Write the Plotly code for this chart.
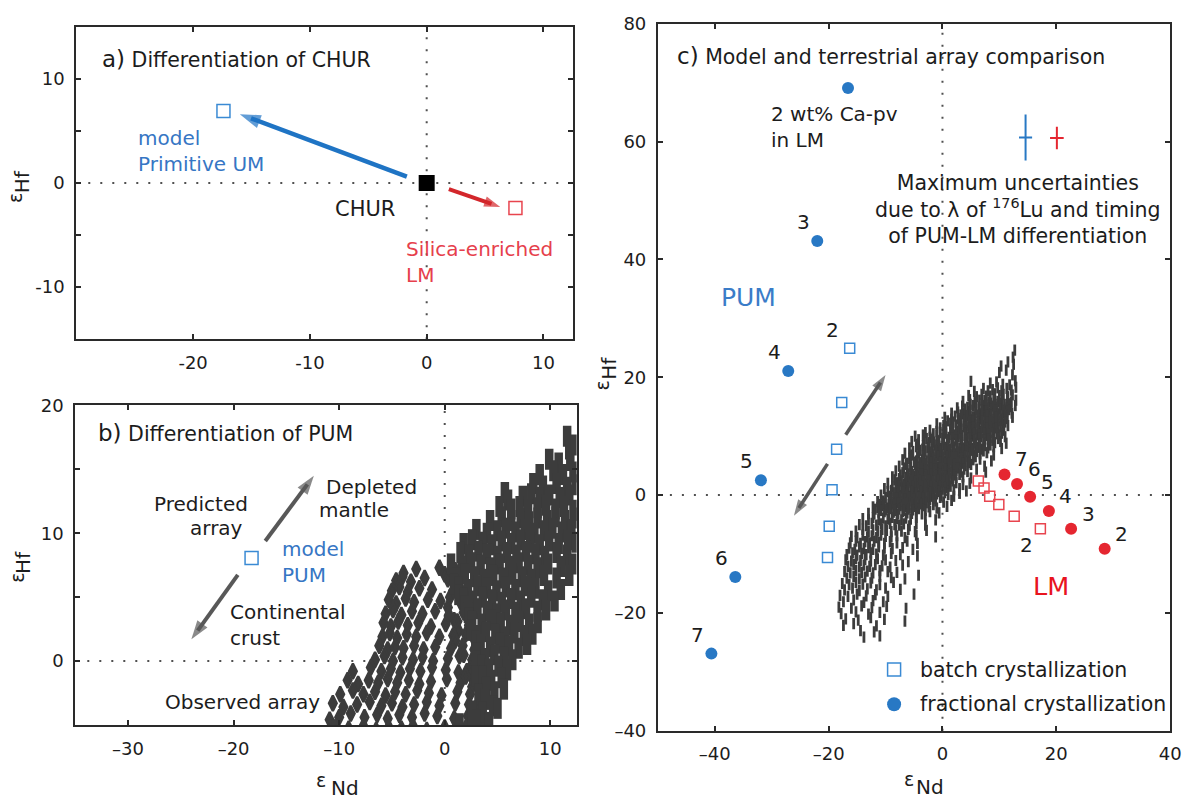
import math
import plotly.graph_objects as go

W, H = 1196, 809
FONT = "DejaVu Sans, Verdana, sans-serif"
INK = "#1c1c1c"
FRAME = "#2a2a2a"
DOTS = "#505050"
CLOUD = "#3c3c3c"
GRAY_ARROW = "#585858"
BLUE = "#2878c4"
BLUE_OPEN = "#3a8ad4"
BLUE_TEXT = "#3676c4"
RED = "#e52630"
RED_OPEN = "#e8444e"
RED_TEXT = "#e6404c"

# plot frames in pixels: left, right, top, bottom
FRAMES = {"a": (77, 578, 16, 337), "b": (76, 582, 405, 733), "c": (664, 1181, 13, 739)}
RANGES = {"a": ([-30, 12.5], [-15, 15]), "b": ([-35, 12.5], [-5, 20]), "c": ([-50, 40], [-40, 80])}
AXES = {"a": ("x", "y"), "b": ("x2", "y2"), "c": ("x3", "y3")}

# ---------------- (a) differentiation of CHUR ----------------
chur_x, chur_y = [0.0], [0.0]
prim_um_x, prim_um_y = [-17.4], [6.9]
lm_a_x, lm_a_y = [7.6], [-2.4]
arrow_a_pum = ([-1.7, -16.0], [0.6, 6.6])
arrow_a_lm = ([1.9, 6.3], [-0.6, -2.3])

# ---------------- (b) differentiation of PUM ----------------
pum_b_x, pum_b_y = [-18.3], [8.07]
arrow_b_up = ([-17.0, -12.4], [9.4, 14.5])
arrow_b_down = ([-19.6, -24.0], [6.75, 1.7])

# observed eNd-eHf array, oceanic island samples
array_b_oib = [
    (-3.9, 6.9), (-2.7, 7.2), (-0.5, 7.3), (1.0, 7.1), (0.0, 6.8),
    (-4.6, 6.3), (-4.0, 6.6), (-3.2, 6.2), (-1.9, 6.5), (0.3, 6.4), (1.4, 6.2),
    (-5.0, 5.5), (-4.3, 5.8), (-3.5, 5.4), (-2.4, 5.7), (-1.2, 5.6), (0.8, 5.5), (1.7, 5.3), (0.5, 5.0),
    (-5.3, 4.8), (-4.6, 4.5), (-3.7, 4.9), (-2.9, 4.6), (-1.6, 4.8), (-0.4, 4.7), (1.5, 4.6), (2.1, 4.4), (0.3, 4.2),
    (-5.6, 3.7), (-4.9, 4.0), (-4.1, 3.6), (-3.1, 3.9), (-2.1, 3.7), (-0.9, 3.9), (0.4, 3.6), (1.8, 3.8), (2.5, 3.5), (0.9, 3.2),
    (-5.8, 3.0), (-5.1, 2.7), (-4.4, 3.1), (-3.5, 2.8), (-2.5, 3.0), (-1.3, 2.7), (0.1, 2.9), (1.2, 3.1), (2.3, 2.8), (1.3, 2.4),
    (-5.9, 1.9), (-5.2, 2.2), (-4.5, 1.8), (-3.6, 2.1), (-2.7, 1.9), (-1.7, 2.2), (-0.5, 1.9), (0.8, 2.0), (2.0, 2.1), (2.8, 1.7), (1.0, 1.6),
    (-6.2, 1.2), (-5.4, 0.9), (-4.7, 1.1), (-3.9, 1.0), (-2.9, 1.2), (-2.0, 0.9), (-0.9, 1.1), (0.6, 1.0), (1.7, 1.2), (2.8, 0.9),
    (-6.6, 0.1), (-5.7, 0.4), (-4.9, 0.0), (-4.0, 0.3), (-3.0, 0.1), (-2.1, 0.3), (-1.1, 0.0), (0.3, 0.2), (1.4, 0.4), (2.6, 0.1), (3.3, 0.6), (3.1, -0.2), (1.8, 0.5),
    (-8.7, -0.8), (-7.0, -0.5), (-6.0, -0.8), (-5.1, -0.6), (-4.2, -0.9), (-3.3, -0.6), (-2.3, -0.8), (-1.2, -0.5), (0.1, -0.7), (1.3, -0.9), (2.4, -0.6), (3.4, -0.4), (3.8, -0.9), (2.1, -0.8),
    (-9.2, -1.5), (-8.2, -1.8), (-7.2, -1.5), (-6.3, -1.7), (-5.4, -1.4), (-4.5, -1.7), (-3.4, -1.5), (-2.4, -1.8), (-1.3, -1.6), (0.2, -1.4), (1.5, -1.7), (2.7, -1.5), (3.6, -1.8), (2.0, -1.2),
    (-9.9, -2.6), (-8.7, -2.3), (-7.7, -2.6), (-6.6, -2.4), (-5.6, -2.7), (-4.7, -2.4), (-3.7, -2.6), (-2.6, -2.3), (-1.5, -2.5), (-0.3, -2.7), (1.2, -2.4), (2.4, -2.6), (3.6, -2.3), (4.0, -2.9), (2.6, -2.0),
    (-10.6, -3.3), (-9.6, -3.6), (-8.3, -3.4), (-7.1, -3.2), (-6.0, -3.5), (-5.0, -3.3), (-4.0, -3.6), (-2.9, -3.4), (-1.7, -3.2), (-0.5, -3.5), (1.0, -3.3), (2.3, -3.4), (3.5, -3.1), (3.0, -3.6),
    (-10.9, -4.6), (-10.0, -4.4), (-8.9, -4.1), (-7.6, -4.4), (-6.4, -4.2), (-5.4, -4.5), (-4.3, -4.2), (-3.1, -4.4), (-1.9, -4.1), (-0.7, -4.3), (0.9, -4.5), (2.2, -4.3), (3.2, -4.6),
    (-10.4, -5.2), (-9.1, -5.3), (-7.7, -5.1), (-6.5, -5.4), (-5.3, -5.2), (-4.1, -5.3), (-3.0, -5.1), (-1.7, -5.4), (0.0, -5.2), (1.2, -5.3), (2.0, -5.2), (3.6, -5.0),
]

# observed eNd-eHf array, mid-ocean ridge samples
array_b_morb = [
    (11.6, 17.6),
    (11.8, 16.6), (12.3, 16.9),
    (9.9, 15.8), (10.8, 15.5), (11.9, 15.7),
    (9.0, 14.6), (10.3, 14.9), (11.2, 14.6), (12.2, 14.8),
    (5.7, 13.2), (8.4, 13.9), (9.3, 13.7), (10.6, 13.9), (11.6, 13.6), (12.4, 13.8),
    (6.0, 12.6), (7.4, 12.9), (8.2, 13.1), (9.0, 12.8), (9.9, 13.0), (10.9, 12.8), (11.8, 13.0),
    (5.2, 12.1), (6.3, 11.9), (7.1, 12.1), (7.9, 11.8), (8.8, 12.0), (9.6, 12.2), (10.5, 11.9), (11.3, 12.1), (12.2, 11.8),
    (4.3, 11.0), (5.4, 11.3), (6.3, 11.0), (7.2, 11.2), (8.0, 10.9), (8.8, 11.2), (9.7, 11.0), (10.5, 11.3), (11.4, 11.0), (12.3, 11.2),
    (3.0, 10.3), (4.0, 10.0), (5.0, 10.2), (5.8, 10.4), (6.7, 10.1), (7.6, 10.3), (8.5, 10.0), (9.4, 10.2), (10.2, 10.4), (11.1, 10.1), (12.0, 10.3),
    (1.8, 9.2), (2.6, 9.5), (3.6, 9.3), (4.5, 9.1), (5.4, 9.4), (6.3, 9.2), (7.2, 9.5), (8.1, 9.3), (9.0, 9.1), (9.9, 9.4), (10.8, 9.2), (11.7, 9.5), (12.4, 9.3),
    (1.5, 8.5), (2.3, 8.3), (3.2, 8.6), (4.0, 8.4), (5.0, 8.2), (5.9, 8.5), (6.8, 8.3), (7.7, 8.6), (8.6, 8.4), (9.5, 8.2), (10.6, 8.5), (11.6, 8.3),
    (0.6, 7.6), (1.6, 7.4), (2.5, 7.7), (3.4, 7.5), (4.3, 7.3), (5.2, 7.6), (6.1, 7.4), (7.0, 7.7), (7.9, 7.5), (8.8, 7.3), (9.8, 7.6), (11.0, 7.4), (12.1, 7.6),
    (1.0, 6.5), (1.9, 6.8), (2.8, 6.6), (3.7, 6.4), (4.6, 6.7), (5.5, 6.5), (6.4, 6.8), (7.3, 6.6), (8.2, 6.4), (9.4, 6.7), (10.6, 6.5), (11.8, 6.7),
    (0.9, 6.0), (1.3, 5.8), (2.2, 5.6), (3.1, 5.9), (4.0, 5.7), (4.9, 5.5), (5.8, 5.8), (6.7, 5.6), (7.6, 5.9), (8.6, 5.7), (9.8, 5.5), (11.0, 5.6),
    (1.3, 5.2), (1.8, 4.9), (2.7, 4.7), (3.6, 5.0), (4.5, 4.8), (5.4, 4.6), (6.3, 4.9), (7.2, 4.7), (8.2, 5.0), (9.3, 4.8), (10.4, 4.7),
    (1.9, 4.3), (2.2, 3.8), (3.1, 4.1), (4.0, 3.9), (4.9, 3.7), (5.8, 4.0), (6.7, 3.8), (7.7, 4.1), (8.8, 3.9), (9.6, 4.0),
    (2.3, 3.4), (2.6, 3.1), (3.5, 2.9), (4.4, 3.2), (5.3, 3.0), (6.2, 2.8), (7.1, 3.1), (8.0, 2.9), (8.8, 3.0),
    (2.5, 2.4), (3.0, 2.0), (3.9, 2.3), (4.8, 2.1), (5.7, 1.9), (6.6, 2.2), (7.5, 2.0), (8.3, 2.1),
    (2.9, 1.6), (3.4, 1.3), (4.3, 1.1), (5.2, 1.4), (6.1, 1.2), (7.0, 1.0), (7.8, 1.3),
    (3.0, 0.6), (3.0, 0.0), (3.8, 0.2), (4.7, 0.5), (5.6, 0.3), (6.4, 0.1),
    (3.5, -0.3), (2.9, -1.2), (4.2, -0.6), (5.1, -0.4), (5.9, -0.7),
    (3.6, -1.2), (4.4, -1.5), (5.4, -1.3),
    (3.9, -2.0), (3.2, -2.6), (4.7, -2.4), (5.6, -2.2),
    (3.8, -3.0), (2.6, -3.9), (3.6, -4.0), (4.6, -3.5), (5.0, -3.7),
    (1.4, -4.9), (2.6, -5.2), (3.0, -4.6), (4.2, -4.8),
]

# ---------------- (c) model and terrestrial array ----------------
pum_frac_x = [-16.6, -22.0, -27.1, -31.9, -36.4, -40.6]
pum_frac_y = [69.1, 43.1, 21.05, 2.5, -13.9, -26.9]
pum_frac_lbl = ["", "3", "4", "5", "6", "7"]
pum_batch_x = [-16.3, -17.7, -18.6, -19.4, -19.9, -20.2]
pum_batch_y = [24.9, 15.7, 7.8, 0.9, -5.3, -10.6]
pum_batch_lbl = ["2", "", "", "", "", ""]
lm_frac_x = [28.5, 22.6, 18.7, 15.4, 13.1, 10.9]
lm_frac_y = [-9.1, -5.7, -2.7, -0.3, 1.9, 3.5]
lm_frac_lbl = ["2", "3", "4", "5", "6", "7"]
lm_batch_x = [17.2, 12.6, 9.9, 8.3, 7.3, 6.3]
lm_batch_y = [-5.7, -3.6, -1.6, -0.2, 1.2, 2.4]
lm_batch_lbl = ["2", "", "", "", "", ""]
unc_x = [14.6, 20.1]
unc_y = [60.7, 60.6]
unc_dx = [1.15, 1.2]
unc_dy = [3.9, 1.9]
unc_colors = [BLUE, RED]
arrow_c_up = ([-17.0, -10.0], [10.25, 20.4])
arrow_c_down = ([-20.2, -26.1], [5.3, -3.5])
legend_x = [-8.5, -8.5]
legend_y = [-29.6, -35.5]
legend_text = ["batch crystallization", "fractional crystallization"]

array_c = [
    (12.7, 24.6), (12.4, 23.4),
    (12.5, 22.2), (10.3, 21.9), (11.5, 22.6),
    (10.0, 20.8), (12.3, 20.4), (11.2, 21.2),
    (5.0, 19.3), (9.5, 19.2), (10.6, 18.8), (12.8, 19.4), (11.8, 18.7), (8.4, 19.0),
    (5.6, 17.6), (7.2, 18.1), (8.0, 17.7), (8.8, 17.9), (9.7, 18.2), (10.4, 17.7), (11.3, 18.1), (12.1, 17.8), (12.9, 18.3),
    (4.6, 16.9), (6.0, 16.7), (6.9, 17.1), (7.7, 16.8), (8.4, 16.8), (9.2, 17.2), (10.0, 16.9), (10.7, 17.1), (11.5, 16.7), (12.3, 17.0),
    (3.6, 15.9), (4.8, 16.2), (5.7, 15.8), (6.5, 16.1), (7.4, 16.1), (8.1, 15.8), (9.0, 16.2), (9.7, 15.9), (10.5, 16.0), (11.4, 16.3), (12.1, 15.8), (12.9, 16.1),
    (2.6, 14.8), (3.5, 15.1), (4.4, 14.9), (5.4, 15.2), (6.4, 14.9), (7.3, 15.2), (8.0, 14.8), (8.9, 15.1), (9.6, 14.9), (10.4, 15.3), (11.3, 14.8), (12.0, 15.0), (12.8, 15.2),
    (1.6, 13.9), (2.7, 14.1), (3.6, 13.8), (4.6, 14.2), (5.8, 14.0), (6.6, 13.8), (7.3, 14.2), (8.2, 13.9), (9.0, 14.1), (9.7, 13.8), (10.6, 14.0), (11.3, 14.2), (12.2, 13.9),
    (0.4, 13.2), (1.6, 12.9), (2.8, 13.0), (3.9, 13.1), (5.0, 12.8), (5.7, 13.2), (6.6, 12.9), (7.4, 13.0), (8.1, 13.2), (9.0, 12.8), (9.8, 13.1), (10.5, 12.9), (11.4, 13.0), (12.3, 13.2),
    (-1.0, 12.1), (0.2, 11.8), (1.4, 12.2), (2.4, 11.9), (3.3, 12.0), (4.2, 11.8), (4.9, 12.2), (5.8, 11.9), (6.5, 12.1), (7.4, 11.8), (8.2, 12.0), (8.9, 12.2), (9.8, 11.9), (10.6, 12.1), (11.5, 11.8),
    (-2.2, 11.0), (-1.0, 10.8), (0.2, 11.1), (1.4, 11.1), (2.6, 10.8), (3.3, 11.2), (4.2, 10.9), (5.0, 11.0), (5.7, 11.2), (6.6, 10.8), (7.3, 11.1), (8.2, 10.9), (9.0, 11.2), (9.7, 10.9), (10.8, 11.0),
    (-4.8, 10.0), (-3.4, 10.2), (-2.2, 9.8), (-1.0, 10.1), (0.2, 10.1), (1.1, 9.8), (2.0, 10.2), (2.8, 9.9), (3.5, 10.1), (4.4, 9.8), (5.2, 10.0), (6.0, 10.2), (6.7, 9.9), (7.6, 10.1), (8.4, 9.8), (9.1, 10.0), (10.0, 10.2), (11.0, 9.9),
    (-5.4, 9.1), (-4.2, 8.8), (-3.2, 9.2), (-2.3, 8.9), (-1.5, 9.0), (-0.6, 9.2), (0.2, 8.8), (1.0, 9.1), (1.8, 8.9), (2.5, 9.2), (3.4, 8.8), (4.2, 9.0), (5.0, 9.1), (5.8, 8.8), (6.5, 9.2), (7.4, 8.9), (8.2, 9.1), (9.2, 8.9), (10.2, 9.1), (11.2, 8.8),
    (-5.8, 8.0), (-4.6, 8.2), (-3.5, 7.8), (-2.6, 8.1), (-1.8, 7.8), (-1.0, 8.2), (-0.2, 7.9), (0.6, 8.1), (1.4, 7.8), (2.1, 8.2), (3.0, 7.9), (3.8, 8.0), (4.6, 8.2), (5.3, 7.9), (6.2, 8.1), (7.0, 7.8), (8.0, 8.0), (9.0, 8.2), (10.4, 7.9),
    (-6.6, 7.1), (-5.4, 6.8), (-4.2, 7.2), (-3.2, 6.9), (-2.4, 7.2), (-1.6, 6.8), (-0.8, 7.1), (0.0, 6.9), (0.8, 7.2), (1.6, 6.8), (2.4, 7.0), (3.2, 7.2), (4.0, 6.9), (4.8, 7.1), (5.6, 6.8), (6.6, 7.0), (7.8, 7.2), (9.0, 6.8),
    (-7.0, 6.0), (-5.8, 6.2), (-4.6, 5.8), (-3.6, 6.0), (-2.8, 5.8), (-2.0, 6.2), (-1.2, 5.9), (-0.4, 6.1), (0.4, 5.8), (1.2, 6.0), (2.0, 6.2), (2.8, 5.9), (3.6, 6.1), (4.4, 5.8), (5.4, 6.0), (6.6, 6.1), (8.6, 5.8),
    (-7.6, 4.9), (-6.4, 5.2), (-5.6, 4.8), (-4.8, 5.1), (-4.0, 4.8), (-3.2, 5.2), (-2.4, 4.9), (-1.6, 5.1), (-0.8, 4.8), (0.0, 5.0), (0.8, 5.2), (1.6, 4.9), (2.4, 5.1), (3.2, 4.8), (4.0, 5.0), (5.0, 5.2), (7.4, 4.9),
    (-8.2, 4.1), (-7.0, 3.8), (-6.2, 4.2), (-5.4, 4.0), (-4.6, 4.2), (-4.0, 3.8), (-3.2, 4.1), (-2.4, 3.9), (-1.6, 4.2), (-0.8, 3.8), (0.0, 4.0), (0.8, 4.1), (1.6, 3.8), (2.4, 4.2), (3.2, 3.9), (4.4, 4.0), (6.0, 4.4), (7.6, 3.9),
    (-8.8, 3.1), (-7.6, 2.8), (-6.5, 3.0), (-5.6, 2.8), (-4.8, 3.2), (-4.0, 2.9), (-3.2, 3.1), (-2.4, 2.8), (-1.6, 3.0), (-0.8, 3.2), (0.0, 2.9), (0.8, 3.1), (1.6, 2.8), (2.4, 3.0), (3.6, 3.1), (5.0, 2.9),
    (-9.6, 2.0), (-8.0, 2.1), (-6.8, 1.9), (-6.0, 2.2), (-5.2, 1.8), (-4.4, 2.0), (-3.6, 2.2), (-2.8, 1.9), (-2.0, 2.1), (-1.2, 1.8), (-0.4, 2.0), (0.4, 2.2), (1.2, 1.9), (2.4, 2.1), (3.6, 1.8), (4.8, 2.0),
    (-10.2, 1.1), (-9.0, 0.8), (-8.2, 0.8), (-7.2, 1.2), (-6.4, 0.9), (-5.6, 1.1), (-4.8, 0.8), (-4.0, 1.0), (-3.2, 1.2), (-2.4, 0.9), (-1.6, 1.1), (-0.8, 0.8), (0.0, 1.0), (0.8, 1.2), (2.0, 0.9), (3.0, 1.1), (4.2, 0.7),
    (-10.8, 0.0), (-9.2, -0.2), (-8.2, 0.2), (-7.4, -0.1), (-6.6, 0.1), (-5.8, -0.2), (-5.0, 0.2), (-4.2, 0.0), (-3.4, -0.1), (-2.6, 0.1), (-1.8, -0.2), (-1.0, 0.2), (-0.2, -0.1), (1.0, 0.1), (2.0, -0.2), (3.0, 0.3),
    (-11.4, -1.1), (-10.4, -1.0), (-9.4, -0.8), (-8.6, -1.2), (-7.8, -0.9), (-7.0, -1.1), (-6.2, -0.8), (-5.4, -1.0), (-4.6, -1.2), (-3.8, -0.9), (-3.0, -1.1), (-2.2, -0.8), (-1.2, -1.0), (0.2, -1.2), (1.6, -0.9),
    (-12.2, -2.0), (-11.4, -2.1), (-10.6, -1.8), (-9.8, -2.2), (-9.0, -1.9), (-8.2, -2.1), (-7.4, -1.8), (-6.6, -2.0), (-5.8, -2.2), (-5.0, -1.9), (-4.2, -2.1), (-3.4, -1.8), (-2.4, -2.0), (-1.0, -2.2), (0.8, -1.9),
    (-13.0, -3.1), (-12.0, -3.2), (-11.2, -2.9), (-10.2, -2.8), (-9.4, -3.1), (-8.6, -2.9), (-7.8, -3.2), (-7.0, -2.8), (-6.2, -3.0), (-5.4, -3.1), (-4.6, -2.9), (-3.6, -3.2), (-2.2, -2.8), (-0.6, -3.0),
    (-14.0, -4.0), (-13.0, -4.2), (-12.2, -3.8), (-11.2, -4.2), (-10.4, -3.9), (-9.6, -4.1), (-8.8, -3.8), (-8.0, -4.0), (-7.2, -4.2), (-6.4, -3.9), (-5.6, -4.1), (-4.6, -3.8), (-3.0, -4.0), (-1.2, -4.2),
    (-14.6, -5.0), (-13.4, -5.2), (-12.4, -4.8), (-11.6, -5.1), (-10.8, -4.9), (-10.0, -5.2), (-9.2, -4.8), (-8.4, -5.0), (-7.6, -5.1), (-6.8, -4.9), (-5.8, -5.2), (-4.6, -4.8), (-3.0, -5.1),
    (-15.2, -6.1), (-14.0, -5.8), (-13.0, -6.2), (-12.2, -5.9), (-11.4, -6.1), (-10.6, -5.8), (-9.8, -6.0), (-9.0, -6.2), (-8.2, -5.9), (-7.2, -6.1), (-6.0, -5.8), (-4.8, -6.2), (-2.8, -6.0),
    (-16.0, -7.0), (-15.0, -7.2), (-14.0, -6.8), (-13.2, -7.1), (-12.4, -6.9), (-11.6, -7.2), (-10.8, -6.8), (-10.0, -7.0), (-9.0, -7.1), (-8.0, -6.9), (-6.6, -7.2), (-4.6, -6.8), (-1.2, -7.1),
    (-16.2, -8.1), (-15.2, -7.8), (-14.4, -8.2), (-13.6, -7.9), (-12.8, -8.1), (-12.0, -7.8), (-11.2, -8.0), (-10.2, -8.2), (-9.2, -7.9), (-8.0, -8.1), (-6.2, -7.8), (-4.4, -8.2),
    (-16.4, -9.0), (-15.4, -9.2), (-14.6, -8.8), (-13.8, -9.1), (-13.0, -8.9), (-12.2, -9.2), (-11.2, -8.8), (-10.2, -9.0), (-8.8, -9.1), (-7.0, -8.9), (-5.2, -9.2),
    (-16.8, -10.1), (-15.8, -9.8), (-15.0, -10.2), (-14.2, -9.9), (-13.4, -10.1), (-12.6, -9.8), (-11.6, -10.0), (-10.4, -10.2), (-9.0, -9.9), (-7.4, -10.1), (-4.4, -10.3),
    (-17.0, -11.0), (-16.0, -11.2), (-15.2, -10.8), (-14.4, -11.1), (-13.6, -10.9), (-12.6, -11.2), (-11.4, -10.8), (-10.0, -11.0), (-8.2, -11.1), (-6.0, -11.3),
    (-16.6, -12.1), (-15.6, -11.8), (-14.6, -12.2), (-13.8, -11.9), (-12.8, -12.1), (-11.8, -11.8), (-10.6, -12.0), (-9.2, -12.2), (-7.0, -11.9),
    (-17.2, -13.0), (-16.2, -13.2), (-15.2, -12.8), (-14.2, -13.1), (-13.2, -12.9), (-12.2, -13.2), (-11.0, -12.8), (-9.6, -13.0), (-8.0, -13.1), (-4.2, -13.6),
    (-16.8, -14.1), (-15.6, -13.8), (-14.6, -14.2), (-13.6, -13.9), (-12.4, -14.1), (-11.0, -13.8), (-9.0, -14.0), (-6.6, -14.2),
    (-17.6, -15.0), (-16.4, -15.2), (-15.2, -14.8), (-14.0, -15.1), (-12.6, -14.9), (-11.0, -15.2), (-8.6, -14.8),
    (-17.2, -16.1), (-15.8, -15.8), (-14.6, -16.2), (-13.2, -15.9), (-11.6, -16.1), (-10.0, -15.8), (-7.4, -16.0),
    (-18.0, -17.0), (-16.6, -17.2), (-15.0, -16.8), (-13.4, -17.1), (-11.8, -16.9), (-9.6, -17.2), (-5.0, -16.8),
    (-17.4, -18.1), (-15.6, -17.8), (-13.8, -18.2), (-12.2, -17.9), (-10.4, -18.1),
    (-18.2, -19.0), (-16.0, -19.2), (-14.2, -18.8), (-12.4, -19.1), (-9.8, -18.9), (-6.4, -19.2),
    (-17.8, -20.1), (-15.2, -19.8), (-13.0, -20.2), (-11.0, -19.9),
    (-17.0, -21.0), (-14.8, -21.2), (-12.6, -20.8), (-10.2, -21.1), (-6.6, -21.4),
    (-17.4, -22.1), (-15.6, -21.8), (-11.6, -22.2),
    (-14.4, -23.0), (-12.0, -23.2),
    (-13.8, -24.1), (-11.0, -23.9),
]

# densely sampled centre of the terrestrial array
array_c_core = [
    (4.9, 15.4), (5.9, 15.6), (6.9, 15.5), (7.7, 15.3), (8.5, 15.6), (9.3, 15.4), (10.1, 15.6), (10.9, 15.4), (11.7, 15.5),
    (3.9, 14.6), (4.9, 14.4), (5.9, 14.6), (6.9, 14.5), (7.7, 14.3), (8.5, 14.6), (9.3, 14.4), (10.1, 14.6), (10.9, 14.4), (11.7, 14.5),
    (2.2, 13.4), (3.2, 13.6), (4.3, 13.5), (5.3, 13.3), (6.2, 13.6), (7.0, 13.4), (7.8, 13.6), (8.6, 13.5), (9.4, 13.3), (10.2, 13.6), (11.0, 13.4),
    (0.9, 12.6), (1.9, 12.4), (2.9, 12.6), (3.8, 12.5), (4.6, 12.3), (5.4, 12.6), (6.2, 12.4), (7.0, 12.6), (7.8, 12.4), (8.6, 12.5), (9.4, 12.3), (10.2, 12.6), (11.0, 12.4),
    (-0.4, 11.4), (0.6, 11.6), (1.8, 11.5), (2.9, 11.3), (3.8, 11.6), (4.6, 11.4), (5.4, 11.6), (6.2, 11.4), (7.0, 11.5), (7.8, 11.3), (8.6, 11.6), (9.4, 11.4), (10.2, 11.6),
    (-3.0, 10.6), (-1.6, 10.4), (-0.4, 10.6), (0.6, 10.5), (1.6, 10.3), (2.4, 10.6), (3.2, 10.4), (4.0, 10.6), (4.8, 10.4), (5.6, 10.5), (6.4, 10.3), (7.2, 10.6), (8.0, 10.4), (8.8, 10.6), (9.6, 10.4), (10.4, 10.5),
    (-4.2, 9.4), (-2.8, 9.6), (-1.8, 9.5), (-0.9, 9.3), (0.0, 9.6), (0.8, 9.4), (1.6, 9.6), (2.4, 9.4), (3.2, 9.5), (4.0, 9.3), (4.8, 9.6), (5.6, 9.4), (6.4, 9.6), (7.2, 9.4), (8.0, 9.5), (8.8, 9.3), (9.8, 9.6),
    (-4.4, 8.6), (-3.4, 8.4), (-2.4, 8.6), (-1.4, 8.5), (-0.6, 8.3), (0.2, 8.6), (1.0, 8.4), (1.8, 8.6), (2.6, 8.4), (3.4, 8.5), (4.2, 8.3), (5.0, 8.6), (5.8, 8.4), (6.6, 8.6), (7.4, 8.4), (8.4, 8.5),
    (-5.2, 7.4), (-4.0, 7.6), (-3.0, 7.5), (-2.0, 7.3), (-1.2, 7.6), (-0.4, 7.4), (0.4, 7.6), (1.2, 7.4), (2.0, 7.5), (2.8, 7.3), (3.6, 7.6), (4.4, 7.4), (5.2, 7.6), (6.0, 7.4), (7.2, 7.5),
    (-5.6, 6.6), (-4.4, 6.4), (-3.4, 6.6), (-2.4, 6.5), (-1.6, 6.3), (-0.8, 6.6), (0.0, 6.4), (0.8, 6.6), (1.6, 6.4), (2.4, 6.5), (3.2, 6.3), (4.0, 6.6), (4.8, 6.4), (5.8, 6.5),
    (-6.2, 5.4), (-5.0, 5.6), (-4.0, 5.5), (-3.0, 5.3), (-2.0, 5.6), (-1.2, 5.4), (-0.4, 5.6), (0.4, 5.4), (1.2, 5.5), (2.0, 5.3), (2.8, 5.6), (3.6, 5.4), (4.6, 5.5),
    (-6.8, 4.6), (-5.6, 4.4), (-4.4, 4.6), (-3.6, 4.5), (-2.8, 4.3), (-2.0, 4.6), (-1.2, 4.4), (-0.4, 4.6), (0.4, 4.4), (1.2, 4.5), (2.0, 4.3), (2.8, 4.6), (3.8, 4.4),
    (-7.4, 3.4), (-6.0, 3.6), (-5.2, 3.5), (-4.4, 3.3), (-3.6, 3.6), (-2.8, 3.4), (-2.0, 3.6), (-1.2, 3.4), (-0.4, 3.5), (0.4, 3.3), (1.2, 3.6), (2.0, 3.4), (3.0, 3.5),
    (-8.4, 2.6), (-7.2, 2.4), (-6.4, 2.6), (-5.6, 2.5), (-4.8, 2.3), (-4.0, 2.6), (-3.2, 2.4), (-2.4, 2.6), (-1.6, 2.4), (-0.8, 2.5), (0.0, 2.3), (0.8, 2.6), (1.8, 2.4),
    (-8.8, 1.4), (-7.6, 1.6), (-6.8, 1.5), (-6.0, 1.3), (-5.2, 1.6), (-4.4, 1.4), (-3.6, 1.6), (-2.8, 1.4), (-2.0, 1.5), (-1.2, 1.3), (-0.4, 1.6), (0.4, 1.4), (1.4, 1.5),
    (-9.6, 0.6), (-8.6, 0.4), (-7.8, 0.6), (-7.0, 0.5), (-6.2, 0.3), (-5.4, 0.6), (-4.6, 0.4), (-3.8, 0.6), (-3.0, 0.4), (-2.2, 0.5), (-1.4, 0.3), (-0.6, 0.6), (0.4, 0.4),
    (-10.0, -0.4), (-9.0, -0.6), (-8.2, -0.5), (-7.4, -0.3), (-6.6, -0.6), (-5.8, -0.4), (-5.0, -0.6), (-4.2, -0.4), (-3.4, -0.5), (-2.6, -0.3), (-1.6, -0.6), (-0.4, -0.4),
    (-11.0, -1.6), (-10.2, -1.4), (-9.4, -1.6), (-8.6, -1.5), (-7.8, -1.3), (-7.0, -1.6), (-6.2, -1.4), (-5.4, -1.6), (-4.6, -1.4), (-3.8, -1.5), (-2.8, -1.3), (-1.6, -1.6),
    (-11.8, -2.4), (-10.8, -2.6), (-10.0, -2.5), (-9.2, -2.3), (-8.4, -2.6), (-7.6, -2.4), (-6.8, -2.6), (-6.0, -2.4), (-5.2, -2.5), (-4.2, -2.3), (-3.0, -2.6),
]

fig = go.Figure()


def px_scale(panel):
    l, r, t, b = FRAMES[panel]
    (x0, x1), (y0, y1) = RANGES[panel]
    return (r - l) / (x1 - x0), (b - t) / (y1 - y0)


def add_points(panel, xs, ys, symbol, size, color, lw=0.0, lcolor=None):
    xa, ya = AXES[panel]
    fig.add_trace(go.Scatter(
        x=xs, y=ys, mode="markers", xaxis=xa, yaxis=ya, hoverinfo="skip",
        marker=dict(symbol=symbol, size=size, color=color,
                    line=dict(width=lw, color=lcolor or color)),
    ))


def add_arrow(panel, xs, ys, color, width, head):
    xa, ya = AXES[panel]
    sx, sy = px_scale(panel)
    length = math.hypot((xs[1] - xs[0]) * sx, (ys[1] - ys[0]) * sy)
    frac = 0.55 * head / length
    xe = xs[1] - (xs[1] - xs[0]) * frac
    ye = ys[1] - (ys[1] - ys[0]) * frac
    fig.add_trace(go.Scatter(
        x=[xs[0], xe], y=[ys[0], ye], mode="lines", xaxis=xa, yaxis=ya,
        hoverinfo="skip", line=dict(color=color, width=width),
    ))
    fig.add_trace(go.Scatter(
        x=list(xs), y=list(ys), mode="markers", xaxis=xa, yaxis=ya, hoverinfo="skip",
        marker=dict(symbol=["circle", "arrow"], size=[0, head], color=color,
                    angleref="previous", line=dict(width=0)),
    ))


annotations = []


def note(panel, text, x, y, size=20, color=INK, xanchor="center", yanchor="middle",
         xshift=0, yshift=0, align="center"):
    xa, ya = AXES[panel]
    annotations.append(dict(
        text=text, x=x, y=y, xref=xa, yref=ya, showarrow=False,
        font=dict(family=FONT, size=size, color=color), align=align,
        xanchor=xanchor, yanchor=yanchor, xshift=xshift, yshift=yshift,
    ))


def paper_note(text, px, py, size=20, angle=0):
    annotations.append(dict(
        text=text, x=px / W, y=1 - py / H, xref="paper", yref="paper", showarrow=False,
        font=dict(family=FONT, size=size, color=INK), textangle=angle,
        xanchor="center", yanchor="middle",
    ))


# ---- panel (a)
add_arrow("a", *arrow_a_pum, color="#1f74c4", width=4.5, head=22)
add_arrow("a", *arrow_a_lm, color="#d3262b", width=4, head=17)
add_points("a", chur_x, chur_y, "square", 16, "#000000")
add_points("a", prim_um_x, prim_um_y, "square-open", 13, BLUE_OPEN, lw=1.5)
add_points("a", lm_a_x, lm_a_y, "square-open", 13, RED_OPEN, lw=1.5)

note("a", '<span style="font-size:23px">a)</span> Differentiation of CHUR', -28.0, 11.9,
     size=20.5, xanchor="left")
note("a", "model<br>Primitive UM", -24.85, 3.05, color=BLUE_TEXT, xanchor="left", align="left")
note("a", "CHUR", -5.3, -2.5, size=21)
note("a", "Silica-enriched<br>LM", -1.95, -7.6, color=RED_TEXT, xanchor="left", align="left")

# ---- panel (b)
bx, by = zip(*array_b_oib)
add_points("b", list(bx), list(by), "diamond-tall", 11, CLOUD, lw=2.4)
bx, by = zip(*array_b_morb)
add_points("b", list(bx), list(by), "line-ns", 15, CLOUD, lw=8.5)
add_arrow("b", *arrow_b_up, color=GRAY_ARROW, width=4, head=20)
add_arrow("b", *arrow_b_down, color=GRAY_ARROW, width=4, head=20)
add_points("b", pum_b_x, pum_b_y, "square-open", 13, BLUE_OPEN, lw=1.5)

note("b", '<span style="font-size:23px">b)</span> Differentiation of PUM', -33.0, 17.84,
     size=20.5, xanchor="left")
note("b", "Predicted", -23.1, 12.26)
note("b", "array", -21.6, 10.4)
note("b", "Depleted", -6.9, 13.65)
note("b", "mantle", -8.6, 11.8)
note("b", "model<br>PUM", -15.6, 7.72, color=BLUE_TEXT, xanchor="left", align="left")
note("b", "Continental<br>crust", -20.5, 2.8, xanchor="left", align="left")
note("b", "Observed array", -19.2, -3.22)

# ---- panel (c)
cx, cy = zip(*(array_c + array_c_core))
add_points("c", list(cx), list(cy), "line-ns", 8, CLOUD, lw=2.8)
add_arrow("c", *arrow_c_up, color=GRAY_ARROW, width=3.5, head=17)
add_arrow("c", *arrow_c_down, color=GRAY_ARROW, width=3.5, head=17)
add_points("c", pum_batch_x, pum_batch_y, "square-open", 10, BLUE_OPEN, lw=1.5)
add_points("c", lm_batch_x, lm_batch_y, "square-open", 10, RED_OPEN, lw=1.5)
add_points("c", pum_frac_x, pum_frac_y, "circle", 12, BLUE)
add_points("c", lm_frac_x, lm_frac_y, "circle", 12, RED)

for i in range(len(unc_x)):
    fig.add_trace(go.Scatter(
        x=[unc_x[i]], y=[unc_y[i]], mode="markers", xaxis="x3", yaxis="y3",
        hoverinfo="skip", marker=dict(size=1, color=unc_colors[i], opacity=0),
        error_x=dict(type="data", array=[unc_dx[i]], color=unc_colors[i], thickness=2, width=0),
        error_y=dict(type="data", array=[unc_dy[i]], color=unc_colors[i], thickness=2, width=0),
    ))

add_points("c", legend_x[:1], legend_y[:1], "square-open", 13, BLUE_OPEN, lw=1.5)
add_points("c", legend_x[1:], legend_y[1:], "circle", 14, BLUE)
for ly, lt in zip(legend_y, legend_text):
    note("c", lt, legend_x[0] + 4.2, ly, size=20.5, xanchor="left")

for xs, ys, labels, dx, dy in (
    (pum_frac_x, pum_frac_y, pum_frac_lbl, -14, 19),
    (pum_batch_x, pum_batch_y, pum_batch_lbl, -17, 18),
    (lm_frac_x, lm_frac_y, lm_frac_lbl, 17, 15),
    (lm_batch_x, lm_batch_y, lm_batch_lbl, -14, -16),
):
    for x, y, t in zip(xs, ys, labels):
        if t:
            note("c", t, x, y, xshift=dx, yshift=dy)

note("c", '<span style="font-size:23px">c)</span> Model and terrestrial array comparison',
     -47.0, 74.5, size=20.5, xanchor="left")
note("c", "2 wt% Ca-pv<br>in LM", -30.5, 62.45, xanchor="left", align="left")
note("c", "Maximum uncertainties<br>due to λ of <sup>176</sup>Lu and timing<br>of PUM-LM differentiation",
     13.2, 48.4, size=20.5)
note("c", "PUM", -34.1, 33.5, size=25, color="#3a7cc8")
note("c", "LM", 19.0, -15.4, size=25.5, color="#e8141e")

# ---- axis titles
paper_note("ε", 15, 192, size=19, angle=-90)
paper_note("Hf", 23, 175, size=20, angle=-90)
paper_note("ε", 17, 582, size=19, angle=-90)
paper_note("Hf", 24, 566, size=20, angle=-90)
paper_note("ε", 608, 384, size=19, angle=-90)
paper_note("Hf", 615, 367, size=20, angle=-90)
paper_note("ε", 324, 789, size=19)
paper_note("Nd", 348, 798, size=20)
paper_note("ε", 917, 788, size=19)
paper_note("Nd", 939, 797, size=20)

# ---- dotted zero lines
shapes = []
for p in "abc":
    xa, ya = AXES[p]
    dotted = dict(color=DOTS, width=2, dash="2px,10px")
    shapes.append(dict(type="line", xref=xa, yref=f"{ya} domain", x0=0, x1=0, y0=0, y1=1,
                       line=dotted, layer="below"))
    shapes.append(dict(type="line", xref=f"{xa} domain", yref=ya, x0=0, x1=1, y0=0, y1=0,
                       line=dotted, layer="below"))


def make_axes(panel, xt, xtt, yt, ytt, yminor=None):
    l, r, t, b = FRAMES[panel]
    xr, yr = RANGES[panel]
    xa, ya = AXES[panel]
    common = dict(ticks="inside", ticklen=5, tickwidth=1.5, tickcolor=FRAME, showline=True,
                  linecolor=FRAME, linewidth=2, mirror="ticks", showgrid=False, zeroline=False,
                  tickfont=dict(family=FONT, size=18, color=INK), fixedrange=True,
                  tickmode="array", ticklabelstandoff=6)
    xax = dict(common, domain=[l / W, r / W], range=xr, tickvals=xt, ticktext=xtt, anchor=ya)
    yax = dict(common, domain=[1 - b / H, 1 - t / H], range=yr, tickvals=yt, ticktext=ytt,
               anchor=xa)
    if yminor:
        yax["minor"] = dict(ticks="inside", ticklen=5, tickwidth=1.5, tickcolor=FRAME,
                            dtick=yminor, tick0=0, showgrid=False)
    return xax, yax


M = "\u2013"
xa_a, ya_a = make_axes("a", [-20, -10, 0, 10], ["-20", "-10", "0", "10"],
                       [-10, 0, 10], ["-10", "0", "10"], yminor=5)
xa_b, ya_b = make_axes("b", [-30, -20, -10, 0, 10], [M + "30", M + "20", M + "10", "0", "10"],
                       [0, 10, 20], ["0", "10", "20"], yminor=5)
xa_c, ya_c = make_axes("c", [-40, -20, 0, 20, 40], [M + "40", M + "20", "0", "20", "40"],
                       [-40, -20, 0, 20, 40, 60, 80],
                       [M + "40", M + "20", "0", "20", "40", "60", "80"])

fig.update_layout(
    width=W, height=H, autosize=False, showlegend=False,
    margin=dict(l=0, r=0, t=0, b=0, pad=0),
    paper_bgcolor="white", plot_bgcolor="white",
    xaxis=xa_a, yaxis=ya_a, xaxis2=xa_b, yaxis2=ya_b, xaxis3=xa_c, yaxis3=ya_c,
    annotations=annotations, shapes=shapes,
    font=dict(family=FONT, color=INK),
)

fig.write_html("out.html")
